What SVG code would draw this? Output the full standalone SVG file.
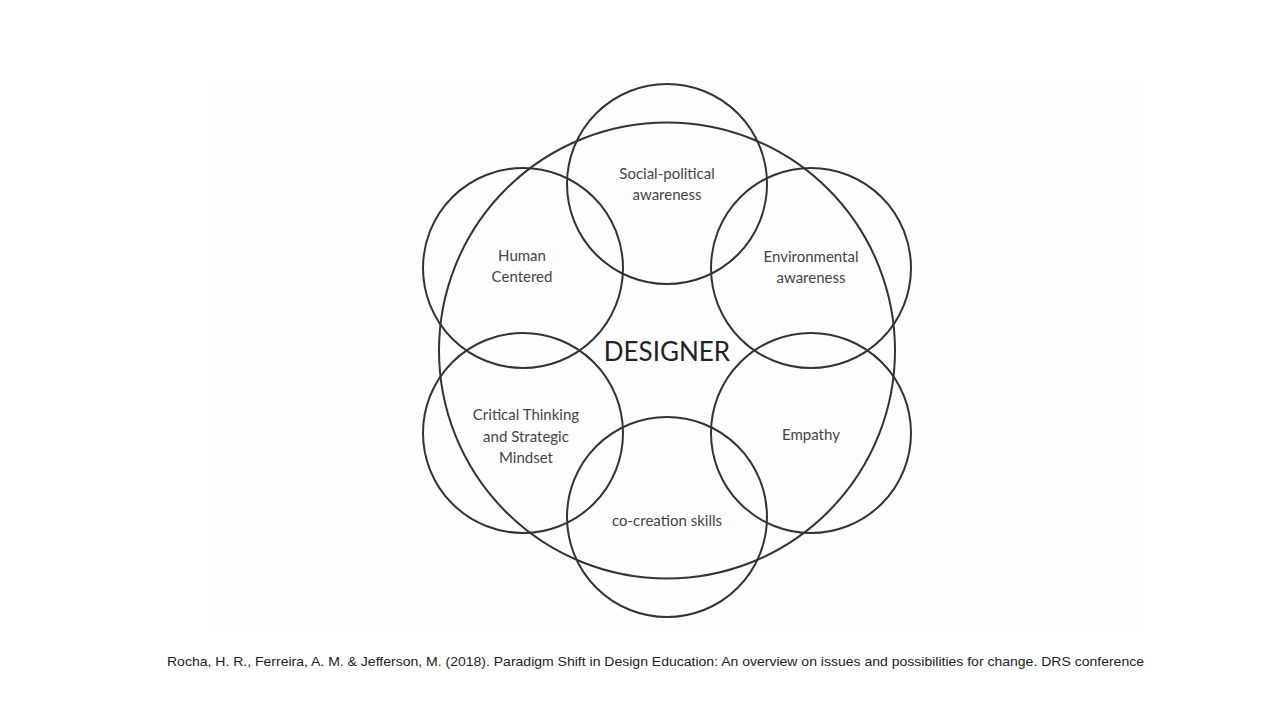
<svg xmlns="http://www.w3.org/2000/svg" width="1280" height="720" viewBox="0 0 1280 720">
<style>
.c{fill:none;stroke:#333;stroke-width:2}
.t{font-family:Lato,"Open Sans",sans-serif;font-size:15px;fill:#444;text-anchor:middle}
.d{font-family:Lato,"Open Sans",sans-serif;font-size:26px;fill:#222;text-anchor:middle}
.cap{font-family:"Liberation Sans",Arial,sans-serif;font-size:13px;fill:#222}
</style>
<rect width="1280" height="720" fill="#fff"/>
<rect x="208" y="80" width="934" height="550" fill="#fdfdfd"/>
<g id="designer"><circle class="c" cx="667" cy="350.5" r="228"/><text class="d" x="667" y="361">DESIGNER</text></g>
<g id="social"><circle class="c" cx="667" cy="184" r="100"/><text class="t" x="667" y="179">Social-political</text><text class="t" x="667" y="200">awareness</text></g>
<g id="human"><circle class="c" cx="523" cy="268" r="100"/><text class="t" x="522" y="261">Human</text><text class="t" x="522" y="282">Centered</text></g>
<g id="environmental"><circle class="c" cx="811" cy="268" r="100"/><text class="t" x="811" y="262">Environmental</text><text class="t" x="811" y="283">awareness</text></g>
<g id="critical"><circle class="c" cx="523" cy="433" r="100"/><text class="t" x="526" y="420">Critical Thinking</text><text class="t" x="526" y="442">and Strategic</text><text class="t" x="526" y="463">Mindset</text></g>
<g id="empathy"><circle class="c" cx="811" cy="433" r="100"/><text class="t" x="811" y="440">Empathy</text></g>
<g id="cocreation"><circle class="c" cx="667" cy="517" r="100"/><text class="t" x="667" y="526">co-creation skills</text></g>
<g id="connectors"></g>
<text class="cap" x="167" y="666" textLength="977" lengthAdjust="spacingAndGlyphs">Rocha, H. R., Ferreira, A. M. &amp; Jefferson, M. (2018). Paradigm Shift in Design Education: An overview on issues and possibilities for change. DRS conference</text>
</svg>
